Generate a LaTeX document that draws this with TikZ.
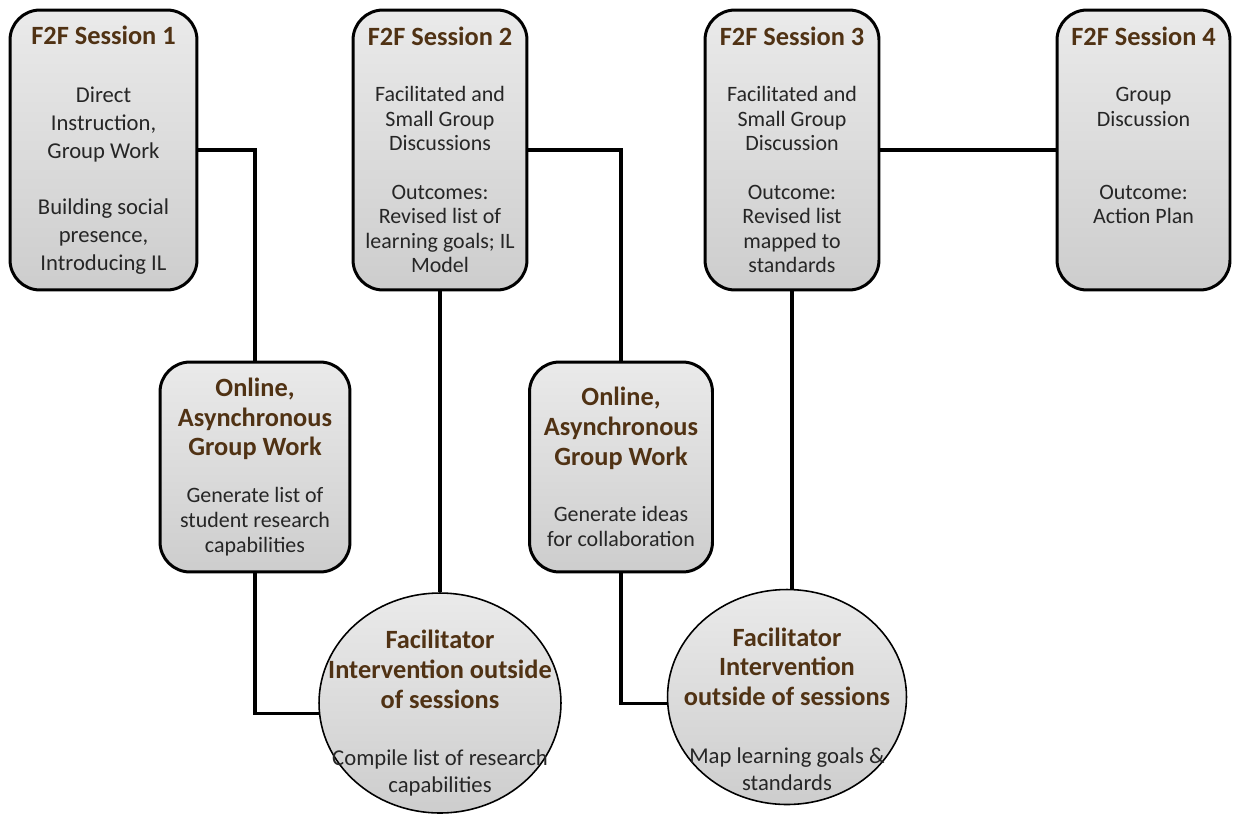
\documentclass[tikz,border=0pt]{standalone}
\usepackage{fontspec}
\setmainfont{Carlito}
\usetikzlibrary{shapes.geometric}

\definecolor{titlebrown}{RGB}{80,50,20}
\definecolor{boxtop}{RGB}{234,234,234}
\definecolor{boxbottom}{RGB}{205,205,205}
\newcommand{\phasetitle}[1]{{\fontsize{15}{17}\selectfont\bfseries\color{titlebrown}#1}}

\tikzset{
    phase/.style={draw, line width=1.7pt, rounded corners=0.6cm, top color=boxtop, bottom color=boxbottom, align=center, inner sep=2pt, text=black!85},
    facil/.style={draw, ellipse, line width=0.9pt, top color=boxtop, bottom color=boxbottom, inner sep=0pt},
    facilnote/.style={align=center, inner sep=0pt, text=black!85, font=\fontsize{12.9}{15.3}\selectfont},
    link/.style={line width=1.8pt},
}

\begin{document}
\begin{tikzpicture}[x=0.02cm, y=-0.02cm]
    \useasboundingbox (0,0) rectangle (1233,815);

    % face-to-face sessions
    \node[phase, minimum width=3.74cm, minimum height=5.6cm, font=\fontsize{12.9}{15.9}\selectfont] (s1) at (103.5,150)
        {\phasetitle{F2F Session 1}\\[17pt]Direct\\Instruction,\\Group Work\\[16pt]Building social\\presence,\\Introducing IL};
    \node[phase, minimum width=3.48cm, minimum height=5.6cm, font=\fontsize{12.5}{13.9}\selectfont] (s2) at (440,150)
        {\phasetitle{F2F Session 2}\\[18pt]Facilitated and\\Small Group\\Discussions\\[14pt]Outcomes:\\Revised list of\\learning goals; IL\\Model};
    \node[phase, minimum width=3.48cm, minimum height=5.6cm, font=\fontsize{12.5}{13.9}\selectfont] (s3) at (792,150)
        {\phasetitle{F2F Session 3}\\[18pt]Facilitated and\\Small Group\\Discussion\\[14pt]Outcome:\\Revised list\\mapped to\\standards};
    \node[phase, minimum width=3.46cm, minimum height=5.6cm, font=\fontsize{12.5}{13.9}\selectfont] (s4) at (1143.5,150)
        {\phasetitle{F2F Session 4}\\[18pt]Group\\Discussion\\[27.5pt]Outcome:\\Action Plan\\[14pt]\rule{0pt}{0pt}};

    % online group work
    \node[phase, minimum width=3.8cm, minimum height=4.2cm, font=\fontsize{12.5}{14.2}\selectfont] (on1) at (255,467)
        {\phasetitle{Online,}\\[2.8pt]\phasetitle{Asynchronous}\\[2.8pt]\phasetitle{Group Work}\\[12.5pt]Generate list of\\student research\\capabilities};
    \node[phase, minimum width=3.66cm, minimum height=4.2cm, font=\fontsize{12.5}{14.2}\selectfont] (on2) at (621,467)
        {\phasetitle{Online,}\\[2.8pt]\phasetitle{Asynchronous}\\[2.8pt]\phasetitle{Group Work}\\[18pt]Generate ideas\\for collaboration};

    % facilitator intervention
    \node[facil, minimum width=4.84cm, minimum height=4.4cm] (el1) at (440,703) {};
    \node[facilnote] (el1txt) at (440,713)
        {\phasetitle{Facilitator}\\[1.7pt]\phasetitle{Intervention outside}\\[1.7pt]\phasetitle{of sessions}\\[17.5pt]Compile list of research\\capabilities};
    \node[facil, minimum width=4.78cm, minimum height=4.3cm] (el2) at (787,697) {};
    \node[facilnote] (el2txt) at (787,709)
        {\phasetitle{Facilitator}\\[1.7pt]\phasetitle{Intervention}\\[1.7pt]\phasetitle{outside of sessions}\\[17.5pt]Map learning goals \&\\standards};

    % connectors
    \draw[link] (s1.east) -| (on1.north);
    \draw[link] (on1.south) |- (el1.185);
    \draw[link] (s2.south) -- (el1.north);
    \draw[link] (s2.east) -| (on2.north);
    \draw[link] (on2.south) |- (el2.183);
    \draw[link] (s3.south) -- (s3.south |- el2.north);
    \draw[link] (s3.east) -- (s4.west);
\end{tikzpicture}
\end{document}
